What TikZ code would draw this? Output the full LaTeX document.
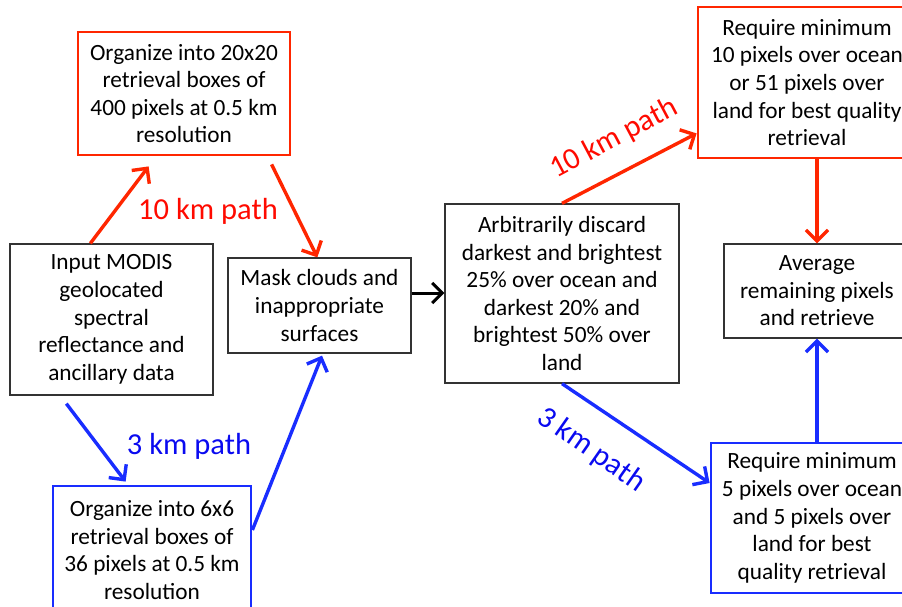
\documentclass[tikz,border=0pt]{standalone}
\usepackage{fontspec}
\setmainfont{Carlito}
\usetikzlibrary{arrows.meta}
\definecolor{lred}{RGB}{255,38,0}
\definecolor{tred}{RGB}{255,10,0}
\definecolor{lblue}{RGB}{25,45,255}
\definecolor{tblue}{RGB}{10,10,240}
\tikzset{
  box/.style={draw=black!80, line width=1.3pt, align=center, inner sep=0pt,
    font=\fontsize{23.3}{27.6}\selectfont},
  rbox/.style={box, draw=lred, line width=2.8pt},
  bbox/.style={box, draw=lblue, line width=2.8pt},
  arr/.style={line width=3.4pt, -{Straight Barb[length=11pt,width=22pt,line width=3.4pt]}},
  rarr/.style={arr, draw=lred},
  barr/.style={arr, draw=lblue},
  karr/.style={line width=3pt, black, -{Straight Barb[length=10pt,width=20pt,line width=3pt]}},
  lbl/.style={font=\fontsize{30.5}{34}\selectfont, inner sep=0pt},
}
\begin{document}
\begin{tikzpicture}[x=1pt,y=-1pt]
\useasboundingbox (0,0) rectangle (902,606);
\clip (0,0) rectangle (902,606);
\node[rbox, minimum width=212pt, minimum height=123pt] (orgr) at (184,93.5)
  {Organize into 20x20\\retrieval boxes of\\400 pixels at 0.5 km\\resolution};
\node[box, minimum width=203pt, minimum height=151pt] (input) at (111.5,319.5)
  {Input MODIS\\geolocated\\spectral\\reflectance and\\ancillary data};
\node[box, minimum width=183pt, minimum height=95pt] (mask) at (319.5,305.5)
  {Mask clouds and\\inappropriate\\surfaces};
\node[box, minimum width=234pt, minimum height=179pt] (arb) at (562,293.5)
  {Arbitrarily discard\\darkest and brightest\\25\% over ocean and\\darkest 20\% and\\brightest 50\% over\\land};
\node[rbox, minimum width=218pt, minimum height=151pt] (reqr) at (807,82.5)
  {Require minimum\\10 pixels over ocean\\or 51 pixels over\\land for best quality\\retrieval};
\node[box, minimum width=186pt, minimum height=94pt] (avg) at (817,291)
  {Average\\remaining pixels\\and retrieve};
\node[bbox, minimum width=202pt, minimum height=150pt] (reqb) at (812,518)
  {Require minimum\\5 pixels over ocean\\and 5 pixels over\\land for best\\quality retrieval};
\node[bbox, minimum width=198pt, minimum height=128pt] (orgb) at (152,550)
  {Organize into 6x6\\retrieval boxes of\\36 pixels at 0.5 km\\resolution};

\draw[rarr] ([xshift=81pt]input.north west) -- ([xshift=72pt,yshift=-10pt]orgr.south west);
\draw[rarr] ([xshift=195pt,yshift=-8pt]orgr.south west) -- ([xshift=90pt]mask.north west);
\coordinate (ka) at ([yshift=12.5pt]mask.east);
\draw[karr] (ka) -- (ka -| arb.west);
\draw[rarr] (arb.north) -- ([yshift=26pt]reqr.south west);
\draw[rarr] (reqr.south -| avg.north) -- (avg.north);
\draw[barr] ([xshift=57pt,yshift=-8pt]input.south west) -- ([xshift=74pt,yshift=3pt]orgb.north west);
\draw[barr] ([yshift=20pt]orgb.east) -- ([xshift=2.5pt,yshift=-2pt]mask.south);
\draw[barr] (arb.south) -- ([yshift=35pt]reqb.west);
\draw[barr] (reqb.north -| avg.south) -- (avg.south);

\node[lbl, text=tred] (l1) at (208,211) {10 km path};
\node[lbl, text=tred, rotate=28] (l2) at (614,139) {10 km path};
\node[lbl, text=tblue] (l3) at (189,446) {3 km path};
\node[lbl, text=tblue, rotate=-35] (l4) at (591,450) {3 km path};
\end{tikzpicture}
\end{document}
